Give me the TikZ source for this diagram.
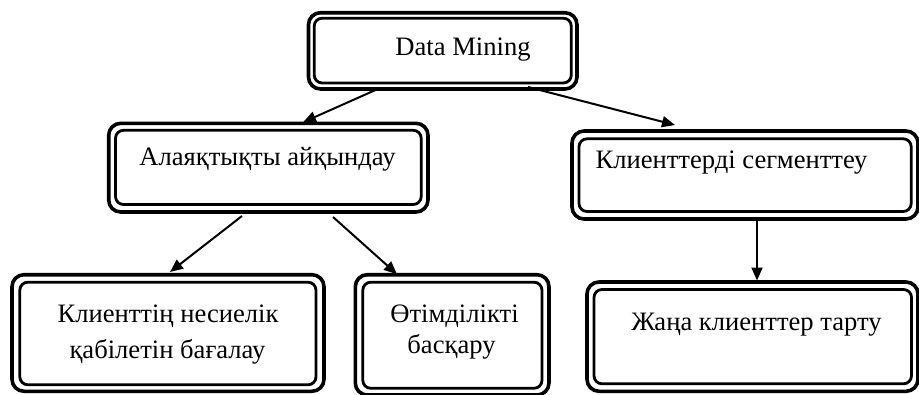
\documentclass[tikz,border=0pt]{standalone}
\usepackage{fontspec}
\setmainfont{Liberation Serif}
\usetikzlibrary{arrows.meta}
\tikzset{
  outbox/.style={draw, line width=3.6pt, rounded corners=12pt, inner sep=0pt, outer sep=0pt, anchor=north west},
  inbox/.style={draw, line width=2.8pt, rounded corners=8pt},
  lbl/.style={anchor=base, inner sep=0pt, font=\fontsize{26.6pt}{30pt}\selectfont},
  conn/.style={line width=2pt, -{Triangle[length=13pt,width=11pt]}}
}
\begin{document}
\begin{tikzpicture}[x=1pt,y=-1pt]
\useasboundingbox (0,0) rectangle (919,394);
% outer boxes
\node[outbox, minimum width=268.5pt, minimum height=76.3pt] (dm) at (308.5,12.7) {};
\node[outbox, minimum width=319.3pt, minimum height=88.7pt] (al) at (108.7,123.3) {};
\node[outbox, minimum width=346pt, minimum height=88pt] (ks) at (572,131) {};
\node[outbox, minimum width=312pt, minimum height=116.6pt] (kn) at (12,274.7) {};
\node[outbox, minimum width=193.7pt, minimum height=120.3pt] (ot) at (355.3,274.7) {};
\node[outbox, minimum width=331pt, minimum height=109.3pt] (zh) at (587,282) {};
% inner boxes
\draw[inbox] ([xshift=5.7pt,yshift=-5.5pt]dm.north west) rectangle ([xshift=-5.7pt,yshift=6pt]dm.south east);
\draw[inbox] ([xshift=6.8pt,yshift=-7pt]al.north west) rectangle ([xshift=-6.8pt,yshift=7.5pt]al.south east);
\draw[inbox] ([xshift=7pt,yshift=-7.8pt]ks.north west) rectangle ([xshift=-6.8pt,yshift=7.5pt]ks.south east);
\draw[inbox] ([xshift=7.8pt,yshift=-7.5pt]kn.north west) rectangle ([xshift=-8pt,yshift=6.5pt]kn.south east);
\draw[inbox] ([xshift=7.5pt,yshift=-7.5pt]ot.north west) rectangle ([xshift=-7pt,yshift=6.7pt]ot.south east);
\draw[inbox] ([xshift=7pt,yshift=-7.5pt]zh.north west) rectangle ([xshift=-6.5pt,yshift=7.5pt]zh.south east);
% labels
\node[lbl] (tdm) at (463,55) {Data Mining};
\node[lbl] (tal) at (267.5,165.5) {Алаяқтықты айқындау};
\node[lbl] (tks) at (731.5,168.3) {Клиенттерді сегменттеу};
\node[lbl] (tkn1) at (168,322) {Клиенттің несиелік};
\node[lbl] (tkn2) at (167.5,358) {қабілетін бағалау};
\node[lbl] (tot1) at (454.5,322) {Өтімділікті};
\node[lbl] (tot2) at (451.5,353) {басқару};
\node[lbl] (tzh) at (756.5,330) {Жаңа клиенттер тарту};
% connectors
\draw[conn] ([xshift=71.5pt,yshift=1pt]dm.south west) -- ([xshift=194.3pt,yshift=1pt]al.north west);
\draw[conn] ([xshift=219.5pt,yshift=2pt]dm.south west) -- ([xshift=103pt,yshift=6pt]ks.north west);
\draw[conn] ([xshift=133.3pt,yshift=-4pt]al.south west) -- ([xshift=158pt,yshift=2.7pt]kn.north west);
\draw[conn] ([xshift=224.3pt,yshift=-5pt]al.south west) -- ([xshift=41.7pt,yshift=0.5pt]ot.north west);
\draw[conn] ([xshift=185pt,yshift=-2pt]ks.south west) -- ([xshift=170pt,yshift=1.5pt]zh.north west);
\end{tikzpicture}
\end{document}
